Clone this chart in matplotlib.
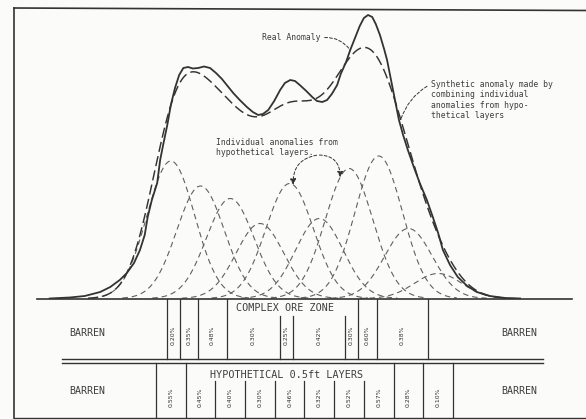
import numpy as np
import matplotlib
matplotlib.use("Agg")
import matplotlib.pyplot as plt

# ---------------------------------------------------------------------------
# Data
# ---------------------------------------------------------------------------
# Hypothetical 0.5 ft layers (top of each layer along the profile, in ft)
layer_top_ft = [0.0, 0.5, 1.0, 1.5, 2.0, 2.5, 3.0, 3.5, 4.0, 4.5]
layer_thickness_ft = 0.5
layer_grade_pct = [0.55, 0.45, 0.40, 0.30, 0.46, 0.32, 0.52, 0.57, 0.28, 0.10]

# Response of a layer per percent grade and lateral spread of its anomaly
response_per_pct = 250.0
anomaly_sigma_ft = 0.40

# Complex ore zone as logged: zone boundaries (ft) and grade of each zone
zone_bounds_ft = [0.18, 0.40, 0.70, 1.20, 2.08, 2.30, 3.18, 3.40, 3.72, 4.58]
zone_grade_pct = [0.20, 0.35, 0.48, 0.30, 0.25, 0.42, 0.30, 0.60, 0.38]

# Measured (real) anomaly along the profile
real_pos_ft = [-1.79, -1.45, -1.20, -0.94, -0.77, -0.61, -0.49, -0.37, -0.27,
               -0.19, -0.14, -0.07, 0.02, 0.07, 0.12, 0.19, 0.25, 0.32, 0.39,
               0.46, 0.54, 0.62, 0.71, 0.81, 0.91, 1.01, 1.11, 1.30, 1.41,
               1.53, 1.63, 1.72, 1.80, 1.89, 1.99, 2.09, 2.17, 2.26, 2.34,
               2.42, 2.53, 2.63, 2.71, 2.80, 2.88, 2.96, 3.05, 3.11, 3.20,
               3.27, 3.35, 3.43, 3.50, 3.57, 3.64, 3.70, 3.77, 3.84, 3.89,
               3.94, 3.99, 4.04, 4.09, 4.16, 4.24, 4.34, 4.44, 4.56, 4.66,
               4.75, 4.83, 4.95, 5.08, 5.24, 5.40, 5.62, 5.88, 6.13]
real_response = [0.0, 1.0, 2.5, 6.5, 11.5, 18.5, 25.5, 35.5, 48.5,
                 63.5, 81.5, 98.5, 115.5, 138.5, 153.5, 173.5, 193.5, 210.5, 223.5,
                 230.5, 231.5, 230.0, 230.5, 232.0, 230.5, 225.5, 219.5, 205.5, 198.5,
                 191.5, 186.5, 183.5, 184.5, 188.5, 197.5, 208.5, 215.5, 218.5, 217.5,
                 213.5, 207.5, 201.5, 197.5, 196.5, 198.5, 204.5, 213.5, 224.5, 236.5,
                 248.5, 260.5, 272.5, 280.5, 283.5, 281.5, 274.5, 263.5, 249.5, 238.5,
                 223.5, 208.5, 193.5, 178.5, 163.5, 148.5, 131.5, 115.5, 98.5, 81.5,
                 65.5, 48.5, 33.5, 21.5, 12.5, 6.5, 2.5, 0.5, 0.0]

# Text
real_label = "Real Anomaly"
synth_label = "Synthetic anomaly made by\ncombining individual\nanomalies from hypo-\nthetical layers"
indiv_label = "Individual anomalies from\nhypothetical layers."
ore_zone_title = "COMPLEX ORE ZONE"
layers_title = "HYPOTHETICAL 0.5ft LAYERS"
barren_label = "BARREN"

# ---------------------------------------------------------------------------
# Anomalies
# ---------------------------------------------------------------------------
layer_center = np.array(layer_top_ft) + layer_thickness_ft / 2
layer_amp = np.array(layer_grade_pct) * response_per_pct


def layer_anomaly(x, i):
    return layer_amp[i] * np.exp(-(x - layer_center[i]) ** 2 / (2 * anomaly_sigma_ft ** 2))


x_grid = np.linspace(-2.0, 7.0, 1200)
synthetic = sum(layer_anomaly(x_grid, i) for i in range(len(layer_center)))

# ---------------------------------------------------------------------------
# Figure layout (pixel based)
# ---------------------------------------------------------------------------
W, H = 586, 419
fig = plt.figure(figsize=(W / 100, H / 100), dpi=100)
fig.patch.set_facecolor("#fbfbf9")

INK = "#333333"
GREY = "#606060"
TXT = "#3e3e3e"
MONO = "DejaVu Sans Mono"


def px_box(x0, y0, x1, y1):
    return [x0 / W, 1 - y1 / H, (x1 - x0) / W, (y1 - y0) / H]


# frame / overlay in pixel coordinates
fax = fig.add_axes([0, 0, 1, 1])
fax.set_xlim(0, W)
fax.set_ylim(H, 0)
fax.axis("off")
fax.plot([14, 14], [8, 417.5], color=INK, lw=1.2)
fax.plot([14, 586], [8, 10.5], color=INK, lw=1.2)
fax.plot([14, 586], [417.5, 417.5], color=INK, lw=1.0)

# profile axes: x in ft, y in response units
X0_PX, FT_PX = 156.0, 59.4
xl, xr = -2.0, 7.0
BASE_PX = 298.5
cax = fig.add_axes(px_box(X0_PX + xl * FT_PX, 8.5, X0_PX + xr * FT_PX, BASE_PX))
cax.set_xlim(xl, xr)
cax.set_ylim(0, 290)
cax.axis("off")
cax.patch.set_alpha(0)

# table axes below the baseline: y in px below the baseline
tax = fig.add_axes(px_box(X0_PX + xl * FT_PX, BASE_PX, X0_PX + xr * FT_PX, H))
tax.set_xlim(xl, xr)
tax.set_ylim(H - BASE_PX, 0)
tax.axis("off")
tax.patch.set_alpha(0)

# ---------------------------------------------------------------------------
# Curves
# ---------------------------------------------------------------------------
for i in range(len(layer_center)):
    span = (x_grid > layer_center[i] - 3.3 * anomaly_sigma_ft) & \
           (x_grid < layer_center[i] + 3.3 * anomaly_sigma_ft)
    cax.plot(x_grid[span], layer_anomaly(x_grid[span], i), color=GREY, lw=0.8,
             ls=(0, (5, 3.5)))

cax.plot(x_grid[synthetic > 0.3], synthetic[synthetic > 0.3], color=INK, lw=1.05,
         ls=(0, (7, 3)))
cax.plot(real_pos_ft, real_response, color=INK, lw=1.3, solid_joinstyle="round")
cax.plot([xl, xr], [0, 0], color=INK, lw=1.2, clip_on=False)

# ---------------------------------------------------------------------------
# Labels with leaders
# ---------------------------------------------------------------------------
lead = dict(color=INK, lw=0.7, ls=(0, (3, 2)), shrinkA=1, shrinkB=0)
LBL = dict(fontsize=5.9, family=MONO, color=TXT)

x_real = 3.27
cax.annotate(real_label, xy=(x_real, np.interp(x_real, real_pos_ft, real_response)),
             xytext=(262, 38), textcoords=fax.transData, ha="left", va="center",
             arrowprops=dict(arrowstyle="-", relpos=(1, 0.5),
                             connectionstyle="arc3,rad=-0.3", **lead), **LBL)

x_syn = 4.12
cax.annotate(synth_label, xy=(x_syn, np.interp(x_syn, x_grid, synthetic)),
             xytext=(431, 80), textcoords=fax.transData, ha="left", va="top",
             linespacing=1.2,
             arrowprops=dict(arrowstyle="-", relpos=(0, 0.9),
                             connectionstyle="arc3,rad=0.2", **lead), **LBL)

fax.text(216, 138, indiv_label, ha="left", va="top", linespacing=1.2, **LBL)
for i, xp, rad in [(4, 2.31, 0.45), (6, 3.10, -0.5)]:
    cax.annotate("", xy=(xp, layer_anomaly(xp, i)), xytext=(318, 155),
                 textcoords=fax.transData,
                 arrowprops=dict(arrowstyle="-|>,head_length=0.35,head_width=0.18",
                                 connectionstyle=f"arc3,rad={rad}", fc=INK, **lead))

# ---------------------------------------------------------------------------
# Tables
# ---------------------------------------------------------------------------
UP_BOT, LO_TOP, LO_BOT = 60.0, 64.5, 119.0
UP_HDR, LO_HDR = 17.5, 82.0
tax.plot([-1.58, 6.52], [UP_BOT, UP_BOT], color=INK, lw=1.0)
tax.plot([-1.58, 6.52], [LO_TOP, LO_TOP], color=INK, lw=1.0)

CELL = dict(rotation=90, ha="center", va="center", fontsize=4.4, color="#2e2e2e")
HEAD = dict(ha="center", va="center", fontsize=7.3, family=MONO, color=TXT)

# complex ore zone
header_lines = {4, 5, 6}
for k, b in enumerate(zone_bounds_ft):
    top = UP_HDR if k in header_lines else 0
    tax.plot([b, b], [top, UP_BOT], color=INK, lw=0.9)
for k, g in enumerate(zone_grade_pct):
    xc = (zone_bounds_ft[k] + zone_bounds_ft[k + 1]) / 2
    tax.text(xc, 37, f"{g:.2f}%", **CELL)
tax.text(2.17, 9.5, ore_zone_title, **HEAD)

# hypothetical layers
bounds = list(layer_top_ft) + [layer_top_ft[-1] + layer_thickness_ft]
for k, b in enumerate(bounds):
    top = LO_HDR if 2 <= k <= 7 else LO_TOP
    tax.plot([b, b], [top, LO_BOT], color=INK, lw=0.9)
for k, g in enumerate(layer_grade_pct):
    tax.text(layer_center[k], 99, f"{g:.2f}%", **CELL)
tax.text(2.19, 76.5, layers_title, **HEAD)

for xb, yb in [(-1.15, 34), (6.12, 34.5), (-1.15, 92), (6.12, 92)]:
    tax.text(xb, yb, barren_label, ha="center", va="center", fontsize=7.2,
             family=MONO, color=TXT)

fig.savefig("out.png", dpi=100, facecolor=fig.get_facecolor())
